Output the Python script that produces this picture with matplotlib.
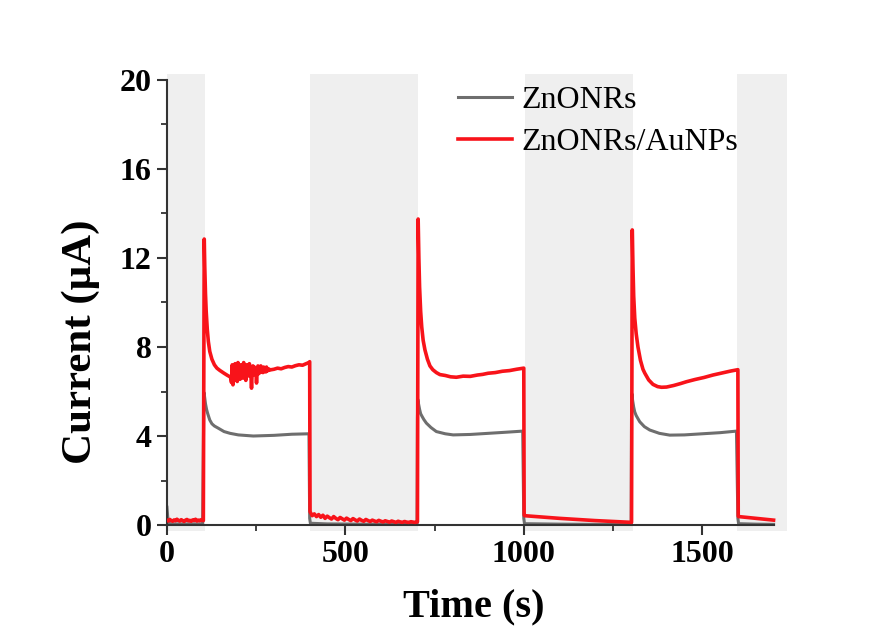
import numpy as np
import matplotlib
matplotlib.use("Agg")
import matplotlib.pyplot as plt

# ---- data: photocurrent response under chopped illumination ----
dark_periods = [(0, 107), (402, 704), (1003, 1305), (1598, 1737)]

gray_t = [0, 3, 8, 50, 100, 103, 104, 106, 108, 111, 114, 120, 126, 133, 144, 160, 177, 200,
          242, 300, 350, 398, 400, 402, 450, 550, 650, 701,
          702, 703, 705, 708, 711, 715, 720, 727, 740, 755, 780, 802, 850, 900, 950, 997,
          1000, 1002, 1100, 1200, 1301,
          1302, 1303, 1305, 1308, 1311, 1315, 1320, 1325, 1338, 1353, 1380, 1409, 1450, 1500,
          1550, 1596, 1600, 1602, 1650, 1700]
gray_i = [0.8, 0.2, 0.05, 0.05, 0.05, 5.0, 5.95, 5.7, 5.45, 5.2, 5.02, 4.72, 4.55, 4.45, 4.35,
          4.2, 4.12, 4.05, 4.0, 4.03, 4.08, 4.1, 0.3, 0.08, 0.05, 0.04, 0.03, 0.03,
          4.8, 5.65, 5.45, 5.2, 5.0, 4.88, 4.74, 4.58, 4.38, 4.2, 4.1, 4.05, 4.07, 4.12, 4.17,
          4.22, 0.3, 0.06, 0.04, 0.03, 0.03,
          5.0, 5.9, 5.6, 5.3, 5.08, 4.92, 4.78, 4.64, 4.42, 4.27, 4.12, 4.04, 4.05, 4.1, 4.15,
          4.22, 0.3, 0.06, 0.04, 0.03]

red_dark1 = [0.22, 0.18, 0.25, 0.2, 0.17, 0.23, 0.19, 0.26, 0.21, 0.18, 0.24, 0.2, 0.16,
             0.22, 0.25, 0.19, 0.21, 0.17, 0.23, 0.2, 0.26, 0.18, 0.22, 0.19, 0.24, 0.2]
red_on1_t = [102, 104.5, 106, 108, 110, 113, 116, 120, 126, 133, 140, 148, 160, 170, 178]
red_on1_i = [0.2, 12.85, 11.6, 10.4, 9.6, 8.8, 8.25, 7.8, 7.45, 7.2, 7.05, 6.95, 6.82, 6.72, 6.65]
red_noise1 = [6.4, 7.2, 6.3, 7.1, 6.5, 7.25, 6.6, 7.0, 6.45, 7.3, 6.7, 7.1, 6.55, 7.2, 6.8,
              7.15, 6.6, 7.3, 6.75, 7.05, 6.5, 7.2, 6.85, 7.1, 6.7, 7.25, 6.8, 6.9, 6.15, 6.95,
              7.15, 6.75, 7.1, 6.85, 7.0, 6.38, 6.95, 7.15, 6.8, 7.05, 6.85, 7.15, 6.9, 7.05,
              6.85, 7.1, 6.9, 7.0, 6.88, 7.1, 6.92, 7.02, 6.95, 7.0, 6.97]
red_tail1_t = [300, 310, 320, 330, 340, 350, 360, 370, 380, 390, 398, 400]
red_tail1_i = [7.0, 7.05, 7.02, 7.08, 7.12, 7.1, 7.16, 7.2, 7.18, 7.25, 7.3, 7.34]
red_dark2 = [0.6, 0.42, 0.5, 0.38, 0.47, 0.35, 0.44, 0.3, 0.4, 0.33, 0.27, 0.38, 0.3, 0.24,
             0.34, 0.28, 0.22, 0.31, 0.25, 0.2, 0.29, 0.23, 0.18, 0.27, 0.21, 0.17, 0.25, 0.2,
             0.16, 0.22, 0.18, 0.15, 0.21, 0.17, 0.14, 0.19, 0.16, 0.13, 0.18, 0.15, 0.12, 0.17,
             0.14, 0.12, 0.16, 0.13, 0.12, 0.15, 0.13, 0.12, 0.14]
red_on2_t = [704, 706, 708, 711, 714, 718, 723, 730, 737, 745, 755, 765, 780, 795, 811, 830,
             850, 870, 885, 900, 920, 940, 960, 980, 997, 1000]
red_on2_i = [13.75, 12.0, 10.7, 9.6, 8.9, 8.3, 7.87, 7.45, 7.15, 6.98, 6.85, 6.76, 6.72, 6.66,
             6.64, 6.69, 6.68, 6.74, 6.77, 6.82, 6.85, 6.91, 6.94, 7.0, 7.04, 7.05]
red_dark3_t = [1001, 1002, 1050, 1100, 1150, 1200, 1250, 1302]
red_dark3_i = [0.45, 0.42, 0.36, 0.3, 0.25, 0.2, 0.16, 0.12]
red_on3_t = [1304, 1306, 1308, 1311, 1315, 1320, 1327, 1334, 1339, 1350, 1362, 1375, 1386,
             1400, 1420, 1440, 1456, 1480, 1505, 1530, 1555, 1580, 1596, 1600]
red_on3_i = [13.26, 11.6, 10.3, 9.3, 8.6, 8.0, 7.4, 7.0, 6.83, 6.52, 6.32, 6.22, 6.19, 6.2,
             6.27, 6.36, 6.44, 6.54, 6.63, 6.74, 6.83, 6.92, 6.97, 6.98]
red_dark4_t = [1601, 1602, 1650, 1700]
red_dark4_i = [0.4, 0.38, 0.3, 0.22]

red_t = np.concatenate([
    np.linspace(0, 100, len(red_dark1)), red_on1_t,
    np.linspace(181, 289, len(red_noise1)), red_tail1_t,
    np.linspace(401, 702, len(red_dark2)), red_on2_t,
    red_dark3_t, red_on3_t, red_dark4_t])
red_i = np.concatenate([red_dark1, red_on1_i, red_noise1, red_tail1_i, red_dark2,
                        red_on2_i, red_dark3_i, red_on3_i, red_dark4_i])

# ---- figure ----
plt.rcParams['font.family'] = ['Liberation Serif', 'DejaVu Serif']
fig = plt.figure(figsize=(8.88, 6.26), dpi=100)
ax = fig.add_axes([0.188, 0.1524, 0.698, 0.7288])

for a, b in dark_periods:
    ax.axvspan(a, b, color='#efefef', lw=0, zorder=0)

ax.plot(gray_t, gray_i, color='#6e6e6e', lw=2.2, label='ZnONRs', zorder=2)
ax.plot(red_t, red_i, color='#f8131a', lw=2.6, label='ZnONRs/AuNPs', zorder=3)

ax.set_xlim(0, 1737)
ax.set_ylim(-0.25, 20.25)
ax.spines['top'].set_visible(False)
ax.spines['right'].set_visible(False)
ax.spines['bottom'].set_position(('data', 0))
ax.spines['bottom'].set_bounds(0, 1700)
ax.spines['left'].set_bounds(0, 20)
for s in ('left', 'bottom'):
    ax.spines[s].set_color('#333333')
    ax.spines[s].set_linewidth(1.5)

ax.set_xticks([0, 500, 1000, 1500])
ax.set_xticks([250, 750, 1250], minor=True)
ax.set_yticks([0, 4, 8, 12, 16, 20])
ax.set_yticks([2, 6, 10, 14, 18], minor=True)
ax.tick_params(which='major', direction='out', length=7, width=1.5, color='#333333',
               labelsize=23, pad=4)
ax.tick_params(which='minor', direction='out', length=4, width=1.3, color='#333333')
for lab in ax.get_xticklabels() + ax.get_yticklabels():
    lab.set_fontweight('bold')

ax.set_xlabel('Time (s)', fontsize=29, fontweight='bold')
ax.set_ylabel('Current (\u03bcA)', fontsize=31, fontweight='bold')
ax.xaxis.set_label_coords(0.495, -0.126)
ax.yaxis.set_label_coords(-0.108, 0.413)

ax.legend(loc='upper left', bbox_to_anchor=(458 / 888, 1 - 86 / 626),
          bbox_transform=fig.transFigure, frameon=False, fontsize=23,
          handlelength=1.7, handletextpad=0.3, labelspacing=0.38,
          borderpad=0, borderaxespad=0)

fig.savefig('out.png', dpi=100, facecolor='white')
